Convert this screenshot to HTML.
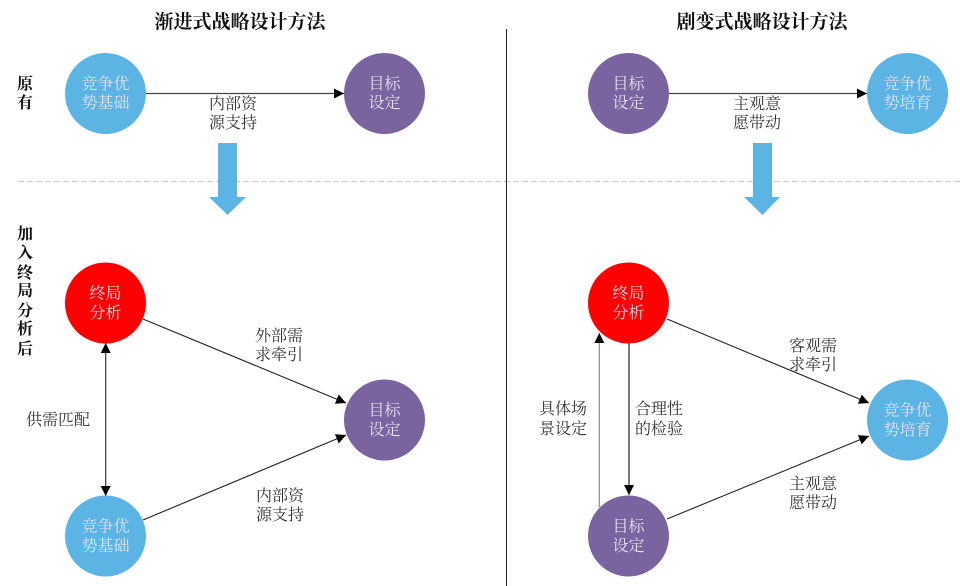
<!DOCTYPE html>
<html><head><meta charset="utf-8"><style>
html,body{margin:0;padding:0;background:#fff;}
svg{display:block;}
text{font-family:"Liberation Serif","Noto Serif CJK SC",serif;}
.lbl{font-size:16px;fill:#333;text-anchor:middle;}
.ct{font-size:16px;fill:#e4e2ef;text-anchor:middle;}
.side{font-size:16px;font-weight:bold;fill:#111;text-anchor:middle;}
.ttl{font-size:19px;font-weight:bold;fill:#111;text-anchor:middle;}
</style></head><body>
<svg width="960" height="586" viewBox="0 0 960 586" xmlns="http://www.w3.org/2000/svg">
<defs>
<marker id="ah" viewBox="0 0 10 10" refX="10" refY="5" markerWidth="10" markerHeight="10" markerUnits="userSpaceOnUse" orient="auto-start-reverse">
<path d="M0,0 L10,5 L0,10 z" fill="#000"/>
</marker>
</defs>
<text class="ttl" x="240" y="28">渐进式战略设计方法</text>
<text class="ttl" x="762" y="28">剧变式战略设计方法</text>
<line x1="18" y1="181.5" x2="960" y2="181.5" stroke="#d0d0d0" stroke-width="1.2" stroke-dasharray="6,3"/>
<line x1="506.5" y1="29" x2="506.5" y2="586" stroke="#222" stroke-width="1"/>
<text class="side" x="25" y="89">原</text>
<text class="side" x="25" y="108">有</text>
<text class="side" x="25" y="239">加</text>
<text class="side" x="25" y="258">入</text>
<text class="side" x="25" y="278">终</text>
<text class="side" x="25" y="296">局</text>
<text class="side" x="25" y="316">分</text>
<text class="side" x="25" y="334">析</text>
<text class="side" x="25" y="354">后</text>
<line x1="146" y1="93.5" x2="344" y2="93.5" stroke="#444" stroke-width="1.3" marker-end="url(#ah)"/>
<line x1="669" y1="93.5" x2="867" y2="93.5" stroke="#444" stroke-width="1.3" marker-end="url(#ah)"/>
<circle cx="105.5" cy="93.5" r="40.5" fill="#5cb4e4"/>
<text class="ct" x="105.5" y="89">竞争优</text>
<text class="ct" x="105.5" y="108">势基础</text>
<circle cx="384.5" cy="93.5" r="40.5" fill="#7a64a0"/>
<text class="ct" x="384.5" y="89">目标</text>
<text class="ct" x="384.5" y="108">设定</text>
<text class="lbl" x="233" y="109">内部资</text>
<text class="lbl" x="233" y="128">源支持</text>
<circle cx="628.5" cy="93.5" r="40.5" fill="#7a64a0"/>
<text class="ct" x="628.5" y="89">目标</text>
<text class="ct" x="628.5" y="108">设定</text>
<circle cx="907.5" cy="93.5" r="40.5" fill="#5cb4e4"/>
<text class="ct" x="907.5" y="89">竞争优</text>
<text class="ct" x="907.5" y="108">势培育</text>
<text class="lbl" x="757" y="109">主观意</text>
<text class="lbl" x="757" y="128">愿带动</text>
<path d="M218,143 H237 V197 H246 L227.5,215 L209,197 H218 Z" fill="#5cb4e4"/>
<path d="M753,143 H772 V197 H780 L762.5,215 L744,197 H753 Z" fill="#5cb4e4"/>
<line x1="105.7" y1="343" x2="105.7" y2="496" stroke="#333" stroke-width="1.2" marker-start="url(#ah)" marker-end="url(#ah)"/>
<line x1="143" y1="319" x2="346" y2="403" stroke="#222" stroke-width="1.1" marker-end="url(#ah)"/>
<line x1="143" y1="520" x2="346" y2="435" stroke="#222" stroke-width="1.1" marker-end="url(#ah)"/>
<circle cx="105.5" cy="303" r="40.5" fill="#fe0000"/>
<text class="ct" x="105.5" y="298.5">终局</text>
<text class="ct" x="105.5" y="318">分析</text>
<circle cx="384.5" cy="420" r="40.5" fill="#7a64a0"/>
<text class="ct" x="384.5" y="415.5">目标</text>
<text class="ct" x="384.5" y="435">设定</text>
<circle cx="105.5" cy="536" r="40.5" fill="#5cb4e4"/>
<text class="ct" x="105.5" y="531.5">竞争优</text>
<text class="ct" x="105.5" y="551">势基础</text>
<text class="lbl" x="279" y="341">外部需</text>
<text class="lbl" x="279" y="360">求牵引</text>
<text class="lbl" x="58" y="425">供需匹配</text>
<text class="lbl" x="280" y="501">内部资</text>
<text class="lbl" x="280" y="520">源支持</text>
<line x1="599.3" y1="507" x2="599.3" y2="333" stroke="#999" stroke-width="1.4" marker-end="url(#ah)"/>
<line x1="629" y1="343" x2="629" y2="495" stroke="#222" stroke-width="1.2" marker-end="url(#ah)"/>
<line x1="667" y1="319" x2="869" y2="403" stroke="#222" stroke-width="1.1" marker-end="url(#ah)"/>
<line x1="667" y1="519" x2="869" y2="436" stroke="#222" stroke-width="1.1" marker-end="url(#ah)"/>
<circle cx="628.5" cy="303" r="40.5" fill="#fe0000"/>
<text class="ct" x="628.5" y="298.5">终局</text>
<text class="ct" x="628.5" y="318">分析</text>
<circle cx="907.5" cy="420" r="40.5" fill="#5cb4e4"/>
<text class="ct" x="907.5" y="415.5">竞争优</text>
<text class="ct" x="907.5" y="435">势培育</text>
<circle cx="628.5" cy="536" r="40.5" fill="#7a64a0"/>
<text class="ct" x="628.5" y="531.5">目标</text>
<text class="ct" x="628.5" y="551">设定</text>
<text class="lbl" x="813" y="351">客观需</text>
<text class="lbl" x="813" y="370">求牵引</text>
<text class="lbl" x="563" y="414">具体场</text>
<text class="lbl" x="563" y="434">景设定</text>
<text class="lbl" x="659" y="414">合理性</text>
<text class="lbl" x="659" y="434">的检验</text>
<text class="lbl" x="813" y="489">主观意</text>
<text class="lbl" x="813" y="508">愿带动</text>
</svg>
</body></html>
